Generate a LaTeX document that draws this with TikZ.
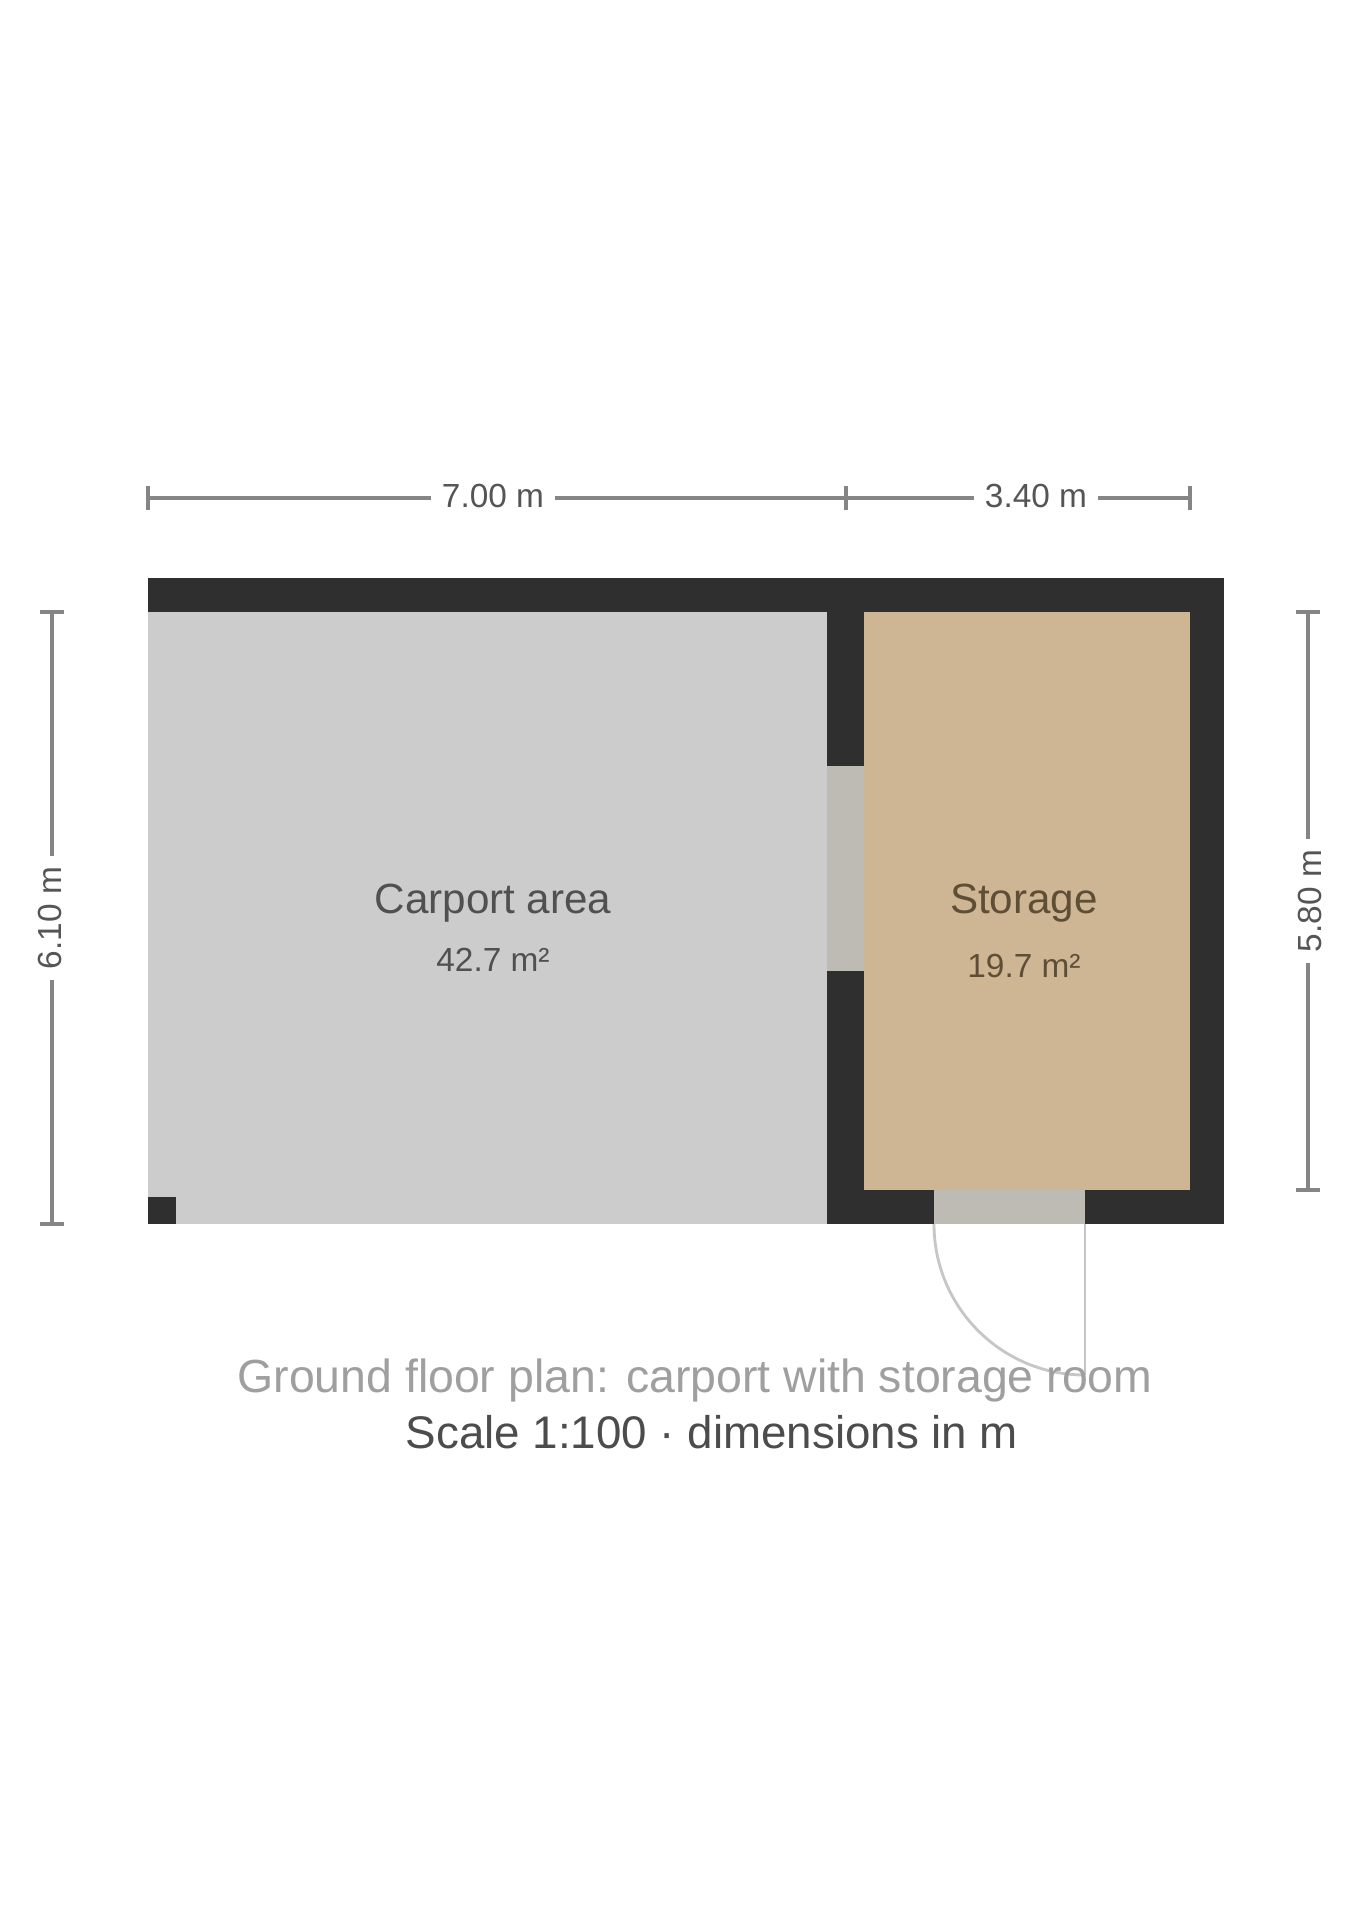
\documentclass[tikz,border=0pt]{standalone}
\usepackage{fontspec}
\setmainfont{Liberation Sans}
\definecolor{wall}{HTML}{2F2F2F}
\definecolor{floorgrey}{HTML}{CCCCCC}
\definecolor{floortan}{HTML}{CEB695}
\definecolor{opening}{HTML}{BEBAB4}
\definecolor{dimc}{HTML}{858585}
\definecolor{dimtext}{HTML}{555555}
\definecolor{greytext}{HTML}{505050}
\definecolor{tantext}{HTML}{5E4E36}
\begin{document}
\begin{tikzpicture}[x=0.01cm,y=-0.01cm,
  wallfill/.style={fill=wall},
  dimline/.style={draw=dimc,line width=1pt},
  dimlabel/.style={fill=white,inner sep=3pt,text=dimtext,font=\fontsize{9.5}{11}\selectfont},
  roomname/.style={inner sep=0pt,font=\fontsize{12}{14}\selectfont},
  roomarea/.style={inner sep=0pt,font=\fontsize{9.5}{11}\selectfont},
  swing/.style={draw=gray!45,line width=0.8pt},
  capone/.style={inner sep=0pt,text=gray!75,font=\fontsize{13.2}{15}\selectfont},
  captwo/.style={inner sep=0pt,text=black!70,font=\fontsize{13}{15}\selectfont}]
\fill[white] (0,0) rectangle (1358,1920);
\useasboundingbox (0,0) rectangle (1358,1920);
% floors
\fill[floorgrey] (148,612) rectangle (827,1224);
\fill[floortan] (864,612) rectangle (1190,1190);
% walls
\fill[wallfill] (148,578) rectangle (1224,612);
\fill[wallfill] (1190,578) rectangle (1224,1224);
\fill[wallfill] (827,612) rectangle (864,766);
\fill[wallfill] (827,971) rectangle (864,1224);
\fill[wallfill] (827,1190) rectangle (934,1224);
\fill[wallfill] (1085,1190) rectangle (1224,1224);
\fill[wallfill] (148,1197) rectangle (176,1224);
% openings
\fill[opening] (827,766) rectangle (864,971);
\fill[opening] (934,1190) rectangle (1085,1224);
% door swing
\coordinate (hinge) at (1085,1224);
\coordinate (leafend) at (1085,1375);
\coordinate (jamb) at (934,1224);
\draw[swing] (hinge) -- (leafend);
\draw[swing] (jamb) arc[start angle=180,end angle=90,radius=151];
% top dimension
\coordinate (t1) at (148,498);
\coordinate (t2) at (846,498);
\coordinate (t3) at (1190,498);
\draw[dimline] (t1) -- (t3);
\foreach \p in {t1,t2,t3} \draw[dimline] ([yshift=-0.12cm]\p) -- ([yshift=0.12cm]\p);
\node[dimlabel] (dtl) at (493,496) {7.00 m};
\node[dimlabel] (dtr) at (1036,496) {3.40 m};
% left dimension
\coordinate (l1) at (52,612);
\coordinate (l2) at (52,1224);
\draw[dimline] (l1) -- (l2);
\foreach \p in {l1,l2} \draw[dimline] ([xshift=-0.12cm]\p) -- ([xshift=0.12cm]\p);
\node[dimlabel,rotate=90] (dl) at (50,918) {6.10 m};
% right dimension
\coordinate (r1) at (1308,612);
\coordinate (r2) at (1308,1190);
\draw[dimline] (r1) -- (r2);
\foreach \p in {r1,r2} \draw[dimline] ([xshift=-0.12cm]\p) -- ([xshift=0.12cm]\p);
\node[dimlabel,rotate=90] (dr) at (1310,901) {5.80 m};
% room labels
\node[roomname,text=greytext] (n1) at (493,903) {Carport area};
\node[roomarea,text=greytext] (a1) at (493,960) {42.7 m²};
\node[roomname,text=tantext] (n2) at (1024,903) {Storage};
\node[roomarea,text=tantext] (a2) at (1024,966) {19.7 m²};
% caption
\node[capone] (c1) at (695,1380) {Ground floor plan: carport with storage room};
\node[captwo] (c2) at (712,1432) {Scale 1:100 \textperiodcentered{} dimensions in m};
\end{tikzpicture}
\end{document}
